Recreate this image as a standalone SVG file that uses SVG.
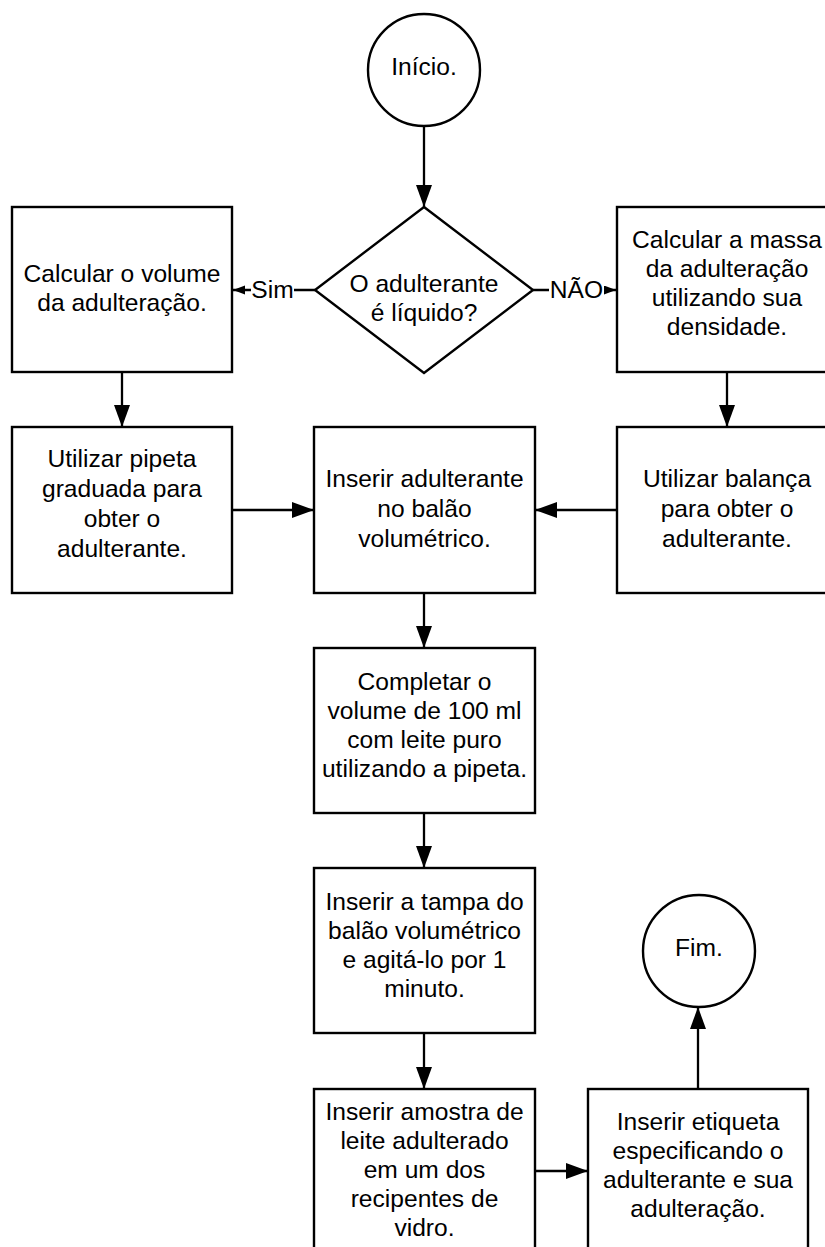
<svg xmlns="http://www.w3.org/2000/svg" width="825" height="1247" viewBox="0 0 825 1247">
<style>
.shape{fill:#fff;stroke:#000;stroke-width:2.4}
.t{font-family:"Liberation Sans",Arial,sans-serif;font-size:24.6px;fill:#000;text-anchor:middle}
.c{fill:none;stroke:#000;stroke-width:2.3}
.big{marker-end:url(#ah)}
.small{marker-end:url(#as)}
</style>
<defs>
<marker id="ah" markerUnits="userSpaceOnUse" markerWidth="24" markerHeight="18" refX="22" refY="8" orient="auto">
<path d="M0,0 L22,8 L0,16 Z" fill="#000"/>
</marker>
<marker id="as" markerUnits="userSpaceOnUse" markerWidth="14" markerHeight="10" refX="12" refY="4.5" orient="auto">
<path d="M0,0 L12,4.5 L0,9 Z" fill="#000"/>
</marker>
</defs>
<rect width="825" height="1247" fill="#fff"/>

<g id="connectors">
<line class="c big" x1="424" y1="126" x2="424" y2="207"/>
<line class="c small" x1="315" y1="290" x2="233" y2="290"/>
<line class="c small" x1="533" y1="290" x2="616" y2="290"/>
<line class="c big" x1="122" y1="372" x2="122" y2="427"/>
<line class="c big" x1="727" y1="372" x2="727" y2="427"/>
<line class="c big" x1="232" y1="510" x2="314" y2="510"/>
<line class="c big" x1="617" y1="510" x2="535" y2="510"/>
<line class="c big" x1="424" y1="593" x2="424" y2="648"/>
<line class="c big" x1="424" y1="813" x2="424" y2="868"/>
<line class="c big" x1="424" y1="1033" x2="424" y2="1089"/>
<line class="c big" x1="535" y1="1171" x2="588" y2="1171"/>
<line class="c big" x1="698" y1="1089" x2="698" y2="1007"/>
<rect x="251" y="276" width="43" height="28" fill="#fff"/>
<text class="t" x="272.5" y="298">Sim</text>
<rect x="549" y="276" width="55" height="28" fill="#fff"/>
<text class="t" x="576.5" y="298">NÃO</text>
</g>

<g id="inicio">
<circle class="shape" cx="424" cy="70" r="56"/>
<text class="t" x="424" y="75">Início.</text>
</g>

<g id="decisao">
<polygon class="shape" points="424,207 533,290 424,373 315,290"/>
<text class="t" x="424" y="292">O adulterante</text>
<text class="t" x="424" y="321">é líquido?</text>
</g>

<g id="calc-volume">
<rect class="shape" x="12" y="207" width="220" height="165"/>
<text class="t" x="122" y="282">Calcular o volume</text>
<text class="t" x="122" y="311">da adulteração.</text>
</g>

<g id="calc-massa">
<rect class="shape" x="617" y="207" width="220" height="165"/>
<text class="t" x="727" y="248">Calcular a massa</text>
<text class="t" x="727" y="277">da adulteração</text>
<text class="t" x="727" y="306">utilizando sua</text>
<text class="t" x="727" y="335">densidade.</text>
</g>

<g id="pipeta">
<rect class="shape" x="12" y="427" width="220" height="166"/>
<text class="t" x="122" y="467">Utilizar pipeta</text>
<text class="t" x="122" y="497">graduada para</text>
<text class="t" x="122" y="527">obter o</text>
<text class="t" x="122" y="557">adulterante.</text>
</g>

<g id="inserir-adulterante">
<rect class="shape" x="314" y="427" width="221" height="166"/>
<text class="t" x="424.5" y="487">Inserir adulterante</text>
<text class="t" x="424.5" y="517">no balão</text>
<text class="t" x="424.5" y="547">volumétrico.</text>
</g>

<g id="balanca">
<rect class="shape" x="617" y="427" width="220" height="166"/>
<text class="t" x="727" y="487">Utilizar balança</text>
<text class="t" x="727" y="517">para obter o</text>
<text class="t" x="727" y="547">adulterante.</text>
</g>

<g id="completar">
<rect class="shape" x="314" y="648" width="221" height="165"/>
<text class="t" x="424.5" y="690">Completar o</text>
<text class="t" x="424.5" y="719">volume de 100 ml</text>
<text class="t" x="424.5" y="748">com leite puro</text>
<text class="t" x="424.5" y="777">utilizando a pipeta.</text>
</g>

<g id="tampa">
<rect class="shape" x="314" y="868" width="221" height="165"/>
<text class="t" x="424.5" y="910">Inserir a tampa do</text>
<text class="t" x="424.5" y="939">balão volumétrico</text>
<text class="t" x="424.5" y="968">e agitá-lo por 1</text>
<text class="t" x="424.5" y="997">minuto.</text>
</g>

<g id="amostra">
<rect class="shape" x="314" y="1089" width="221" height="165"/>
<text class="t" x="424.5" y="1120">Inserir amostra de</text>
<text class="t" x="424.5" y="1149">leite adulterado</text>
<text class="t" x="424.5" y="1178">em um dos</text>
<text class="t" x="424.5" y="1207">recipentes de</text>
<text class="t" x="424.5" y="1236">vidro.</text>
</g>

<g id="etiqueta">
<rect class="shape" x="588" y="1089" width="220" height="165"/>
<text class="t" x="698" y="1130">Inserir etiqueta</text>
<text class="t" x="698" y="1159">especificando o</text>
<text class="t" x="698" y="1188">adulterante e sua</text>
<text class="t" x="698" y="1217">adulteração.</text>
</g>

<g id="fim">
<circle class="shape" cx="699" cy="951" r="56"/>
<text class="t" x="699" y="956">Fim.</text>
</g>
</svg>
